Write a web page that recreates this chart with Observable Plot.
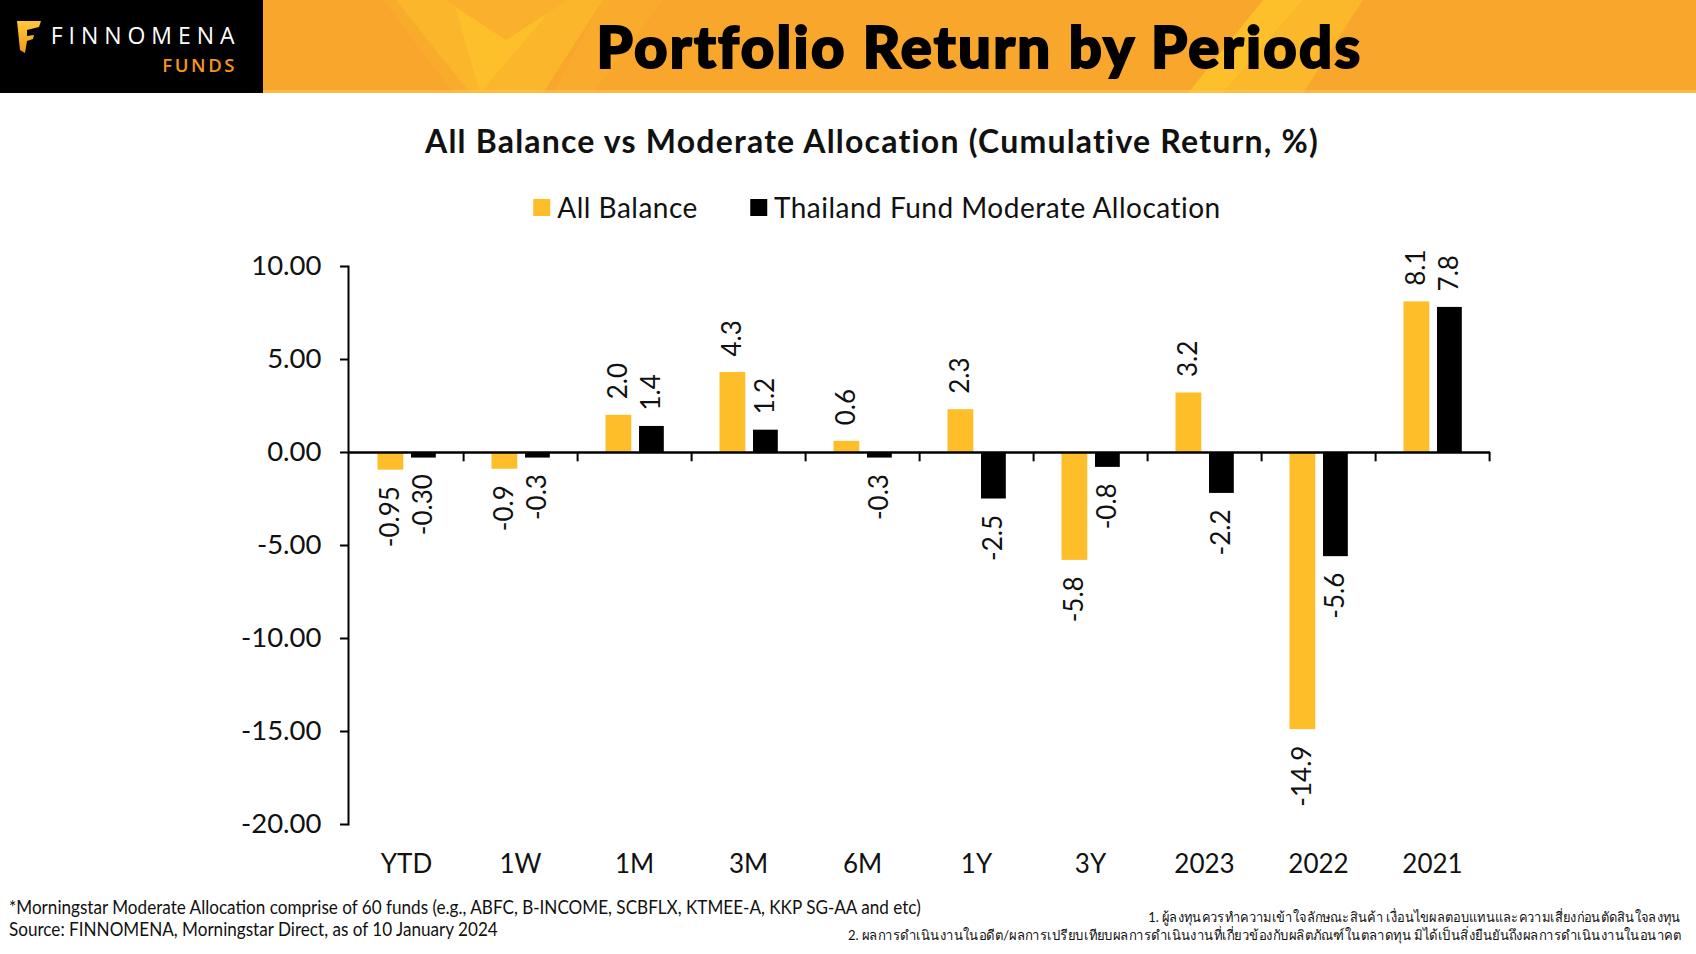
<!DOCTYPE html>
<html><head><meta charset="utf-8">
<script src="https://cdn.jsdelivr.net/npm/d3@7"></script>
<script src="https://cdn.jsdelivr.net/npm/@observablehq/plot@0.6"></script>
<style>
body{margin:0;width:1696px;height:954px;position:relative;background:#fff;overflow:hidden;font-family:Lato,"Open Sans",sans-serif;color:#111;}
#logo{position:absolute;left:0;top:0;width:263px;height:93px;background:#000;}
#logo .brand{position:absolute;right:28.5px;top:23px;font-family:"Open Sans",Lato,sans-serif;text-align:right;line-height:25.5px;white-space:nowrap;}
#logo .fin{font-size:23px;letter-spacing:5.95px;margin-right:-5.95px;color:#fff;font-weight:500;}
#logo .funds{font-size:18.5px;letter-spacing:2.6px;margin-right:-2.6px;color:#F7941D;font-weight:600;}
#banner{position:absolute;left:263px;top:0;width:1433px;height:93px;}
#title{position:absolute;left:263px;top:0;width:1433px;height:91px;display:flex;align-items:center;justify-content:center;font-family:Lato,sans-serif;font-weight:900;font-size:58px;color:#000;letter-spacing:2.3px;-webkit-text-stroke:2px #000;}
#subtitle{position:absolute;left:872px;top:122px;transform:translateX(-50%);white-space:nowrap;font-weight:700;font-size:32px;letter-spacing:1.2px;line-height:1.2;color:#111;}
#legend{position:absolute;left:877px;top:189px;transform:translateX(-50%);white-space:nowrap;font-size:28px;letter-spacing:0.5px;line-height:1.3;display:flex;align-items:center;color:#111;}
#legend .sw{display:inline-block;width:17px;height:17px;margin-right:7px;}
#legend .item{display:flex;align-items:center;margin-right:52px;}
#legend .item:last-child{margin-right:0;}
#chart{position:absolute;left:0;top:215px;}
.foot{position:absolute;white-space:nowrap;line-height:1;}
#f1{left:9px;top:898px;font-size:18.5px;transform:scaleX(0.925);transform-origin:left center;}
#f2{left:9px;top:920px;font-size:18.5px;transform:scaleX(0.925);transform-origin:left center;}
#t1{right:15px;top:910px;font-size:14px;transform:scaleX(0.92);transform-origin:right center;}
#t2{right:15px;top:928px;font-size:14px;transform:scaleX(0.935);transform-origin:right center;}
</style></head>
<body>
<div id="logo">
<svg width="60" height="70" style="position:absolute;left:0;top:0">
<defs><linearGradient id="lg" x1="0" y1="0" x2="0" y2="1"><stop offset="0" stop-color="#FFC83A"/><stop offset="1" stop-color="#F29A1A"/></linearGradient></defs>
<path d="M17 21 L41 21 L39 27 L27 30 L27 36 L34 35 L33 39 L27 41 L25 53 L20 50 Z" fill="url(#lg)"/>
</svg>
<div class="brand"><span class="fin">FINNOMENA</span><br><span class="funds">FUNDS</span></div>
</div>
<svg id="banner" width="1433" height="93">
<rect width="1433" height="93" fill="#F8A62C"/>
<polygon points="120,0 170,0 230,93 190,93" fill="#F9AE2C" opacity="0.8"/>
<polygon points="133,0 190,0 225,93 207,93" fill="#FBB62B"/>
<polygon points="297,0 340,0 280,93 217,93" fill="#FBB62B"/>
<polygon points="190,0 297,0 217,93" fill="#FDBF2A"/>
<polygon points="182,0 305,0 243,40" fill="#FAB02C"/>
<polygon points="340,0 400,0 330,93 290,93" fill="#F9AE2C" opacity="0.7"/>
<polygon points="1040,0 1100,0 1040,93 960,93" fill="#FBB82B"/>
<polygon points="1000,0 1040,0 960,93 925,93" fill="#FDC02A"/>
<rect y="90" width="1433" height="3" fill="#FBC45A" opacity="0.6"/>
</svg>
<div id="title">Portfolio Return by Periods</div>
<div id="subtitle">All Balance vs Moderate Allocation (Cumulative Return, %)</div>
<div id="legend"></div>
<div id="chart"></div>
<div class="foot" id="f1">*Morningstar Moderate Allocation comprise of 60 funds (e.g., ABFC, B-INCOME, SCBFLX, KTMEE-A, KKP SG-AA and etc)</div>
<div class="foot" id="f2">Source: FINNOMENA, Morningstar Direct, as of 10 January 2024</div>
<div class="foot" id="t1">1. ผู้ลงทุนควรทำความเข้าใจลักษณะสินค้า เงื่อนไขผลตอบแทนและความเสี่ยงก่อนตัดสินใจลงทุน</div>
<div class="foot" id="t2">2. ผลการดำเนินงานในอดีต/ผลการเปรียบเทียบผลการดำเนินงานที่เกี่ยวข้องกับผลิตภัณฑ์ในตลาดทุน มิได้เป็นสิ่งยืนยันถึงผลการดำเนินงานในอนาคต</div>
<script>
// ---- data ----
const categories = ["YTD","1W","1M","3M","6M","1Y","3Y","2023","2022","2021"];
const seriesNames = ["All Balance","Thailand Fund Moderate Allocation"];
const allBalance = [-0.95,-0.9,2.0,4.3,0.6,2.3,-5.8,3.2,-14.9,8.1];
const allBalanceLabels = ["-0.95","-0.9","2.0","4.3","0.6","2.3","-5.8","3.2","-14.9","8.1"];
const moderate = [-0.30,-0.3,1.4,1.2,-0.3,-2.5,-0.8,-2.2,-5.6,7.8];
const moderateLabels = ["-0.30","-0.3","1.4","1.2","-0.3","-2.5","-0.8","-2.2","-5.6","7.8"];
const yTicks = [10,5,0,-5,-10,-15,-20];
const colors = ["#FDBE2A","#000000"];

// legend
const leg = document.getElementById("legend");
seriesNames.forEach((s,i)=>{
  const it=document.createElement("div");it.className="item";
  it.innerHTML=`<span class="sw" style="background:${colors[i]}"></span>${s}`;
  leg.appendChild(it);
});

const rows = [];
categories.forEach((c,i)=>{
  rows.push({cat:c, series:seriesNames[0], value:allBalance[i], label:allBalanceLabels[i]});
  rows.push({cat:c, series:seriesNames[1], value:moderate[i], label:moderateLabels[i]});
});

const W=1696, H=670, mL=348, mR=206, mT=51, mB=61;
const step=(W-mL-mR)/categories.length;
const geo = {
  [seriesNames[0]]: {inL:28.5, w:26},
  [seriesNames[1]]: {inL:62, w:25}
};
const marks = [];
seriesNames.forEach((s,i)=>{
  const g = geo[s];
  const data = rows.filter(d=>d.series===s);
  marks.push(Plot.barY(data,{x:"cat", y:"value", fill:colors[i], insetLeft:g.inL, insetRight:step-g.inL-g.w}));
  const dx = g.inL + g.w/2 - step/2;
  marks.push(Plot.text(data.filter(d=>d.value>=0),{x:"cat", y:"value", text:"label", rotate:-90, textAnchor:"start", dx, dy:-16, fontSize:26, fill:"#111"}));
  marks.push(Plot.text(data.filter(d=>d.value<0),{x:"cat", y:"value", text:"label", rotate:-90, textAnchor:"end", dx, dy:16, fontSize:26, fill:"#111"}));
});

const chart = Plot.plot({
  width: W, height: H,
  marginLeft: mL, marginRight: mR, marginTop: mT, marginBottom: mB,
  style: {fontFamily: "Lato, 'Open Sans', sans-serif", background: "transparent", color:"#111"},
  x: {domain: categories, padding: 0, label: null},
  y: {domain: [-20, 10], label: null},
  marks: [
    ...marks,
    Plot.ruleY([0], {stroke:"#000", strokeWidth:2.5}),
    Plot.ruleX(categories, {x: d=>d, y1: 0, y2: -0.5, dx: step/2, stroke:"#000", strokeWidth:2}),
    Plot.frame({anchor:"left", stroke:"#000", strokeWidth:2}),
    Plot.axisY({ticks: yTicks, tickFormat: d=>d.toFixed(2), tickSize: 8, tickPadding: 19, fontSize: 27.5, strokeWidth: 2, stroke:"#000", fill:"#111"}),
    Plot.axisX({tickSize: 0, tickPadding: 30, fontSize: 26, fill:"#111"})
  ]
});
document.getElementById("chart").appendChild(chart);
</script>
</body></html>
